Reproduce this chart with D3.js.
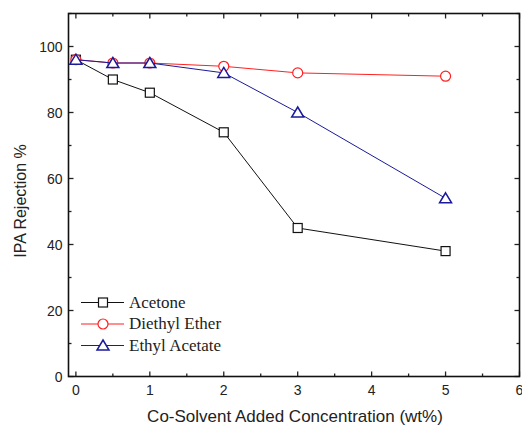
<!DOCTYPE html>
<html>
<head>
<meta charset="utf-8">
<script src="https://cdn.jsdelivr.net/npm/d3@7"></script>
<style>
  body { margin: 0; background: #fff; }
  svg { display: block; }
  .tick-label { font-family: "Liberation Sans", Arial, sans-serif; font-size: 14px; fill: #222; }
  .axis-title { font-family: "Liberation Sans", Arial, sans-serif; font-size: 16px; fill: #222; }
  .x-title { font-size: 17px; }
  .legend-label { font-family: "Liberation Serif", "Times New Roman", serif; font-size: 17px; fill: #222; }
</style>
</head>
<body>
<svg id="chart" width="522" height="428"></svg>
<script>
// DATA
const concentrations = [0, 0.5, 1, 2, 3, 5]
const acetone        = [96, 90, 86, 74, 45, 38]
const diethylEther   = [96, 95, 95, 94, 92, 91]
const ethylAcetate   = [96, 95, 95, 92, 80, 54]
const xTicks = [0, 1, 2, 3, 4, 5, 6]
const yTicks = [0, 20, 40, 60, 80, 100]

const seriesList = [
    { name: 'Acetone',       values: acetone,      color: '#111',    marker: 'square' },
    { name: 'Diethyl Ether', values: diethylEther, color: '#ff2020', marker: 'circle' },
    { name: 'Ethyl Acetate', values: ethylAcetate, color: '#1a1a9a', marker: 'triangle' }
]

// LAYOUT
const frame = { left: 68.5, right: 519.5, top: 13.5, bottom: 376.5 }
const svg = d3.select('#chart')

const x = d3.scaleLinear().domain([-0.1, 6]).range([frame.left, frame.right])
const y = d3.scaleLinear().domain([0, 110]).range([frame.bottom, frame.top])

// Ticks (inward, mirrored on all four sides)
const ticks = svg.append('g').attr('stroke', '#222').attr('stroke-width', 1.3)
d3.range(0, 6.01, 0.5).forEach(v => {
    const len = Number.isInteger(v) ? 5 : 3
    ticks.append('line').attr('x1', x(v)).attr('x2', x(v)).attr('y1', frame.bottom).attr('y2', frame.bottom - len)
    ticks.append('line').attr('x1', x(v)).attr('x2', x(v)).attr('y1', frame.top).attr('y2', frame.top + len)
})
d3.range(0, 111, 10).forEach(v => {
    const len = v % 20 === 0 ? 5 : 3
    ticks.append('line').attr('y1', y(v)).attr('y2', y(v)).attr('x1', frame.left).attr('x2', frame.left + len)
    ticks.append('line').attr('y1', y(v)).attr('y2', y(v)).attr('x1', frame.right).attr('x2', frame.right - len)
})

// Frame
svg.append('rect')
    .attr('x', frame.left).attr('y', frame.top)
    .attr('width', frame.right - frame.left).attr('height', frame.bottom - frame.top)
    .attr('fill', 'none').attr('stroke', '#111').attr('stroke-width', 1.6)

// Tick labels
svg.append('g').selectAll('text').data(xTicks).join('text')
    .attr('class', 'tick-label')
    .attr('x', d => x(d)).attr('y', 395)
    .attr('text-anchor', 'middle')
    .text(d => d)

svg.append('g').selectAll('text').data(yTicks).join('text')
    .attr('class', 'tick-label')
    .attr('x', frame.left - 6).attr('y', d => y(d) + 5)
    .attr('text-anchor', 'end')
    .text(d => d)

// Axis titles
svg.append('text').attr('class', 'axis-title x-title')
    .attr('x', 295).attr('y', 422)
    .attr('text-anchor', 'middle')
    .text('Co-Solvent Added Concentration (wt%)')

svg.append('text').attr('class', 'axis-title')
    .attr('transform', `translate(26, 201) rotate(-90)`)
    .attr('text-anchor', 'middle')
    .text('IPA Rejection %')

// Marker helper
function drawMarker(g, kind, cx, cy, color) {
    switch (kind) {
        case 'square':
            g.append('rect').attr('x', cx - 4.5).attr('y', cy - 4.5).attr('width', 9).attr('height', 9)
                .attr('fill', '#fff').attr('stroke', color).attr('stroke-width', 1.2)
            break
        case 'circle':
            g.append('circle').attr('cx', cx).attr('cy', cy).attr('r', 5)
                .attr('fill', '#fff').attr('stroke', color).attr('stroke-width', 1.2)
            break
        case 'triangle':
            g.append('path')
                .attr('d', `M${cx},${cy - 5.5}L${cx + 6},${cy + 4.5}L${cx - 6},${cy + 4.5}Z`)
                .attr('fill', '#fff').attr('stroke', color).attr('stroke-width', 1.5)
            break
    }
}

// Series
const line = d3.line().x(d => x(d[0])).y(d => y(d[1]))
seriesList.forEach(s => {
    const pts = concentrations.map((c, i) => [c, s.values[i]])
    const g = svg.append('g')
    g.append('path').attr('d', line(pts)).attr('fill', 'none')
        .attr('stroke', s.color).attr('stroke-width', 1)
    pts.forEach(p => drawMarker(g, s.marker, x(p[0]), y(p[1]), s.color))
})

// Legend
const legend = svg.append('g')
seriesList.forEach((s, i) => {
    const ly = 302.5 + i * 21.5
    legend.append('line').attr('x1', 81).attr('x2', 124).attr('y1', ly).attr('y2', ly)
        .attr('stroke', s.color).attr('stroke-width', 1)
    drawMarker(legend, s.marker, 103, ly, s.color)
    legend.append('text').attr('class', 'legend-label')
        .attr('x', 129).attr('y', ly + 5)
        .text(s.name)
})
</script>
</body>
</html>
